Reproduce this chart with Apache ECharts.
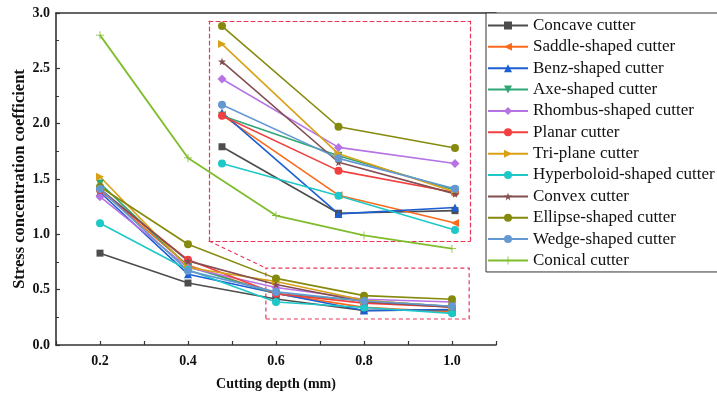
<!DOCTYPE html>
<html>
<head>
<meta charset="utf-8">
<script src="https://cdn.jsdelivr.net/npm/echarts@6/dist/echarts.min.js"></script>
<style>
  html, body { margin: 0; padding: 0; background: #fff; }
  #chart { width: 717px; height: 396px; }
</style>
</head>
<body>
<div id="chart"></div>
<script>
const depth = [0.2, 0.4, 0.6, 0.8, 1.0];

const concave     = [0.83, 0.56, 0.415, 0.312, 0.316];
const saddle      = [1.40, 0.72, 0.464, 0.340, 0.297];
const benz        = [1.38, 0.64, 0.468, 0.311, 0.321];
const axe         = [1.46, 0.71, 0.463, 0.401, 0.348];
const rhombus     = [1.34, 0.70, 0.520, 0.414, 0.389];
const planar      = [1.40, 0.77, 0.463, 0.378, 0.344];
const triPlane    = [1.52, 0.70, 0.574, 0.404, 0.345];
const hyperboloid = [1.10, 0.68, 0.389, 0.339, 0.286];
const convex      = [1.41, 0.76, 0.547, 0.391, 0.342];
const ellipse     = [1.43, 0.91, 0.602, 0.446, 0.413];
const wedge       = [1.41, 0.67, 0.480, 0.397, 0.350];
const conical     = [2.80, 1.69, 1.17, 0.99, 0.87];

const yTicks = [0, 0.5, 1.0, 1.5, 2.0, 2.5, 3.0];
const xTicks = [0.2, 0.4, 0.6, 0.8, 1.0];

// zoomed region (main axes) and the inset's corner it connects to
const zoomBox = [0.577, 0.235, 1.039, 0.695];
const insetCorner = [0.4477, 0.94];
const insetFrom = 2; // inset shows depths 0.6 .. 1.0

const STAR = 'path://M50,0L61,35L98,35L68,57L79,91L50,70L21,91L32,57L2,35L39,35Z';
const PLUS = 'path://M45,0H55V45H100V55H55V100H45V55H0V45H45Z';

const cutters = [
  { name: 'Concave cutter', y: concave, color: '#4d4d4d', symbol: 'rect', size: 7 },
  { name: 'Saddle-shaped cutter', y: saddle, color: '#fb6a1c', symbol: 'triangle', rot: 90, size: 8 },
  { name: 'Benz-shaped cutter', y: benz, color: '#1d5fd3', symbol: 'triangle', size: 8 },
  { name: 'Axe-shaped cutter', y: axe, color: '#2fa676', symbol: 'triangle', rot: 180, size: 8 },
  { name: 'Rhombus-shaped cutter', y: rhombus, color: '#b573e4', symbol: 'diamond', size: 9 },
  { name: 'Planar cutter', y: planar, color: '#f23f3f', symbol: 'circle', size: 8 },
  { name: 'Tri-plane cutter', y: triPlane, color: '#d9a115', symbol: 'triangle', rot: -90, size: 8 },
  { name: 'Hyperboloid-shaped cutter', y: hyperboloid, color: '#1ec8c8', symbol: 'circle', size: 8 },
  { name: 'Convex cutter', y: convex, color: '#834e50', symbol: STAR, size: 8 },
  { name: 'Ellipse-shaped cutter', y: ellipse, color: '#858a0c', symbol: 'circle', size: 8 },
  { name: 'Wedge-shaped cutter', y: wedge, color: '#6498d0', symbol: 'circle', size: 8 }
];
const conicalInfo = { name: 'Conical cutter', y: conical, color: '#7fbd2c', symbol: PLUS, size: 8 };

const FONT = '"Liberation Serif", "Times New Roman", serif';
const RED = '#e8385a';

function pairs(ys, from) {
  return depth.map((x, i) => [x, ys[i]]).slice(from || 0);
}

function mkSeries(c, grid) {
  return {
    name: c.name,
    type: 'line',
    xAxisIndex: grid === 0 ? 0 : 2,
    yAxisIndex: grid === 0 ? 0 : 1,
    data: grid === 0 ? pairs(c.y) : pairs(c.y, insetFrom),
    symbol: c.symbol,
    symbolSize: c.size,
    symbolRotate: c.rot || 0,
    showSymbol: true,
    lineStyle: { width: 1.6, color: c.color },
    itemStyle: { color: c.color },
    emphasis: { disabled: true },
    animation: false
  };
}

const series = [];
cutters.forEach(c => series.push(mkSeries(c, 0)));
const conS = mkSeries(conicalInfo, 0);
conS.lineStyle.width = 1.8;
series.push(conS);
cutters.forEach(c => series.push(mkSeries(c, 1)));

// dashed zoom box + connector on main axes
series[0].markArea = {
  silent: true,
  itemStyle: { color: 'rgba(0,0,0,0)', borderColor: RED, borderWidth: 1.2, borderType: [4, 3] },
  data: [[{ coord: [zoomBox[0], zoomBox[1]] }, { coord: [zoomBox[2], zoomBox[3]] }]]
};
series[0].markLine = {
  silent: true,
  symbol: 'none',
  label: { show: false },
  lineStyle: { color: RED, width: 1.2, type: [4, 3] },
  data: [[{ coord: insetCorner }, { coord: [zoomBox[0], zoomBox[3]] }]]
};

const axisCol = '#333';
const dashedLine = { show: true, lineStyle: { color: RED, width: 1.2, type: [4, 3] } };

const chart = echarts.init(document.getElementById('chart'), null, { renderer: 'canvas' });
chart.setOption({
  animation: false,
  backgroundColor: '#fff',
  grid: [
    { left: 56, top: 13, right: 221, bottom: 51 },
    { left: 209, top: 21, width: 261, height: 220 }
  ],
  legend: {
    orient: 'vertical',
    left: 486,
    top: 13,
    z: 10,
    data: cutters.map(c => c.name).concat([conicalInfo.name]),
    backgroundColor: '#fff',
    borderColor: '#333',
    borderWidth: 1,
    padding: [4, 30, 3, 1],
    itemGap: 4.36,
    itemWidth: 40,
    itemHeight: 10,
    selectedMode: false,
    textStyle: { fontFamily: FONT, fontSize: 17, lineHeight: 17, color: '#111' }
  },
  xAxis: [
    {
      gridIndex: 0, type: 'value', min: 0.1, max: 1.1, interval: 0.1,
      name: 'Cutting depth (mm)', nameLocation: 'middle', nameGap: 32,
      nameTextStyle: { fontFamily: FONT, fontSize: 14, fontWeight: 'bold', color: '#111' },
      axisLine: { show: true, lineStyle: { color: axisCol, width: 1.6 } },
      axisTick: { show: true, inside: true, length: 4, lineStyle: { color: axisCol, width: 1.2 } },
      axisLabel: {
        fontFamily: FONT, fontSize: 14, fontWeight: 'bold', color: '#111', margin: 9,
        formatter: v => xTicks.some(t => Math.abs(t - v) < 1e-6) ? v.toFixed(1) : ''
      },
      splitLine: { show: false }
    },
    {
      gridIndex: 0, type: 'value', position: 'top', min: 0.1, max: 1.1,
      axisLine: { show: true, lineStyle: { color: axisCol, width: 1.6 } },
      axisTick: { show: false }, axisLabel: { show: false }, splitLine: { show: false }
    },
    {
      gridIndex: 1, type: 'value', min: 0.5777, max: 1.0258,
      axisLine: dashedLine, axisTick: { show: false }, axisLabel: { show: false }, splitLine: { show: false }
    },
    {
      gridIndex: 1, type: 'value', position: 'top', min: 0.5777, max: 1.0258,
      axisLine: dashedLine, axisTick: { show: false }, axisLabel: { show: false }, splitLine: { show: false }
    }
  ],
  yAxis: [
    {
      gridIndex: 0, type: 'value', min: 0, max: 3, interval: 0.5,
      name: 'Stress concentration coefficient', nameLocation: 'middle', nameGap: 28,
      nameMoveOverlap: false,
      nameTextStyle: { fontFamily: FONT, fontSize: 16.5, fontWeight: 'bold', color: '#111' },
      axisLine: { show: true, lineStyle: { color: axisCol, width: 1.6 } },
      axisTick: { show: true, inside: true, length: 4, lineStyle: { color: axisCol, width: 1.2 } },
      minorTick: { show: true, splitNumber: 2, length: 3, lineStyle: { color: axisCol, width: 1 } },
      axisLabel: {
        fontFamily: FONT, fontSize: 14, fontWeight: 'bold', color: '#111', margin: 6,
        formatter: v => v.toFixed(1)
      },
      splitLine: { show: false }
    },
    {
      gridIndex: 1, type: 'value', min: 0.269, max: 0.6098,
      axisLine: dashedLine, axisTick: { show: false }, axisLabel: { show: false }, splitLine: { show: false }
    },
    {
      gridIndex: 1, type: 'value', position: 'right', min: 0.269, max: 0.6098,
      axisLine: dashedLine, axisTick: { show: false }, axisLabel: { show: false }, splitLine: { show: false }
    }
  ],
  series: series
});
</script>
</body>
</html>
